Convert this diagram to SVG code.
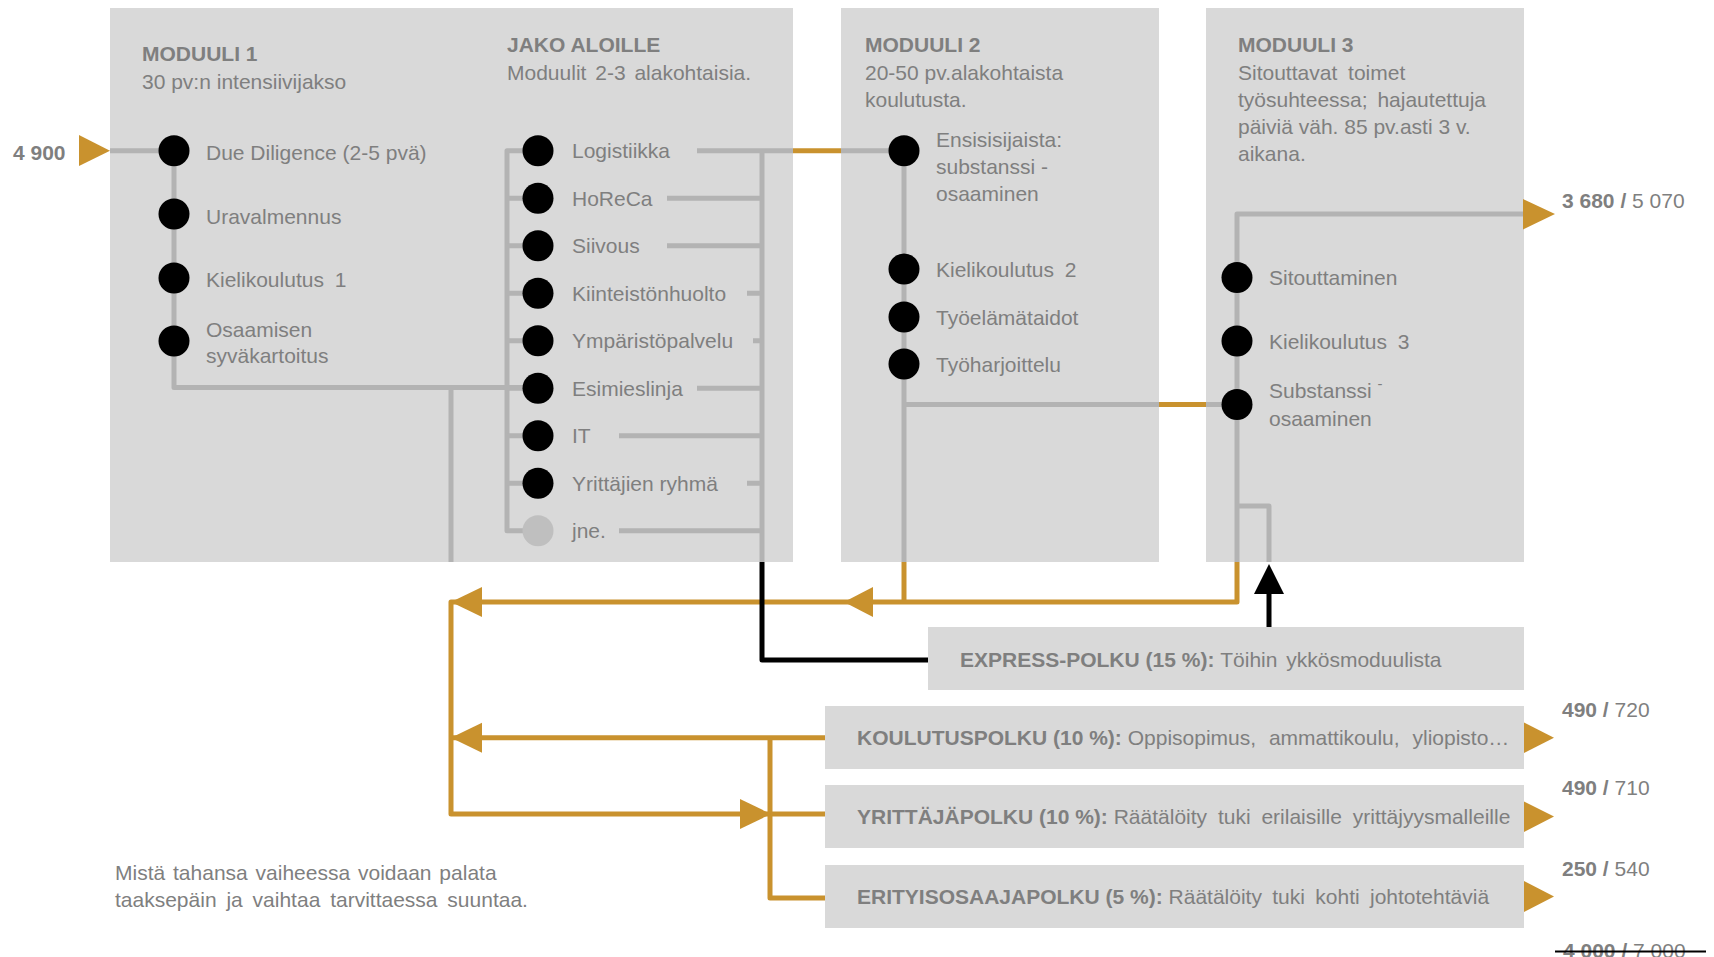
<svg xmlns="http://www.w3.org/2000/svg" width="1714" height="957" viewBox="0 0 1714 957">
<style>
.box{fill:#d9d9d9}
.t{font-family:"Liberation Sans",Arial,sans-serif;font-size:21px;fill:#7f7f7f}
.b{font-weight:bold}
.g{stroke:#b3b3b3;stroke-width:5;fill:none;stroke-linejoin:round}
.o{stroke:#c9922e;stroke-width:5;fill:none;stroke-linejoin:round}
.k{stroke:#000;stroke-width:5;fill:none;stroke-linejoin:round}
.dot{fill:#000}
.dotg{fill:#bfbfbf}
.ah{fill:#c9922e}
.ak{fill:#000}
</style>
<rect width="1714" height="957" fill="#fff"/>
<g id="moduuli1">
<rect class="box" x="110" y="8" width="683" height="554"/>
<text class="t b" x="142" y="61">MODUULI 1</text>
<text class="t" x="142" y="89">30 pv:n intensiivijakso</text>
<text class="t b" x="507" y="52">JAKO ALOILLE</text>
<text class="t" x="507" y="80" word-spacing="3">Moduulit 2-3 alakohtaisia.</text>
</g>
<g id="moduuli2">
<rect class="box" x="841" y="8" width="318" height="554"/>
<text class="t b" x="865" y="52">MODUULI 2</text>
<text class="t" x="865" y="80">20-50 pv.alakohtaista</text>
<text class="t" x="865" y="107">koulutusta.</text>
</g>
<g id="moduuli3">
<rect class="box" x="1206" y="8" width="318" height="554"/>
<text class="t b" x="1238" y="52">MODUULI 3</text>
<text class="t" x="1238" y="80" word-spacing="5">Sitouttavat toimet</text>
<text class="t" x="1238" y="107" word-spacing="4">työsuhteessa; hajautettuja</text>
<text class="t" x="1238" y="134">päiviä väh. 85 pv.asti 3 v.</text>
<text class="t" x="1238" y="161">aikana.</text>
</g>
<g id="express">
<rect class="box" x="928" y="627" width="596" height="63"/>
<text class="t" x="960" y="667"><tspan class="b">EXPRESS-POLKU (15 %): </tspan><tspan word-spacing="3">Töihin ykkösmoduulista</tspan></text>
</g>
<g id="koulutuspolku">
<rect class="box" x="825" y="706" width="699" height="63"/>
<text class="t" x="857" y="745"><tspan class="b">KOULUTUSPOLKU (10 %): </tspan><tspan word-spacing="7">Oppisopimus, ammattikoulu, yliopisto…</tspan></text>
</g>
<g id="yrittajapolku">
<rect class="box" x="825" y="785" width="699" height="63"/>
<text class="t" x="857" y="824"><tspan class="b">YRITTÄJÄPOLKU (10 %): </tspan><tspan word-spacing="5">Räätälöity tuki erilaisille yrittäjyysmalleille</tspan></text>
</g>
<g id="erityisosaajapolku">
<rect class="box" x="825" y="865" width="699" height="63"/>
<text class="t" x="857" y="904"><tspan class="b">ERITYISOSAAJAPOLKU (5 %): </tspan><tspan word-spacing="4.5">Räätälöity tuki kohti johtotehtäviä</tspan></text>
</g>
<g id="connectors">
<path class="g" d="M110 150.7H174V387.5H538"/>
<path class="g" d="M451 387.5V562"/>
<path class="g" d="M538 150.7H507V530.7H538"/>
<path class="g" d="M507 198.2H538M507 245.7H538M507 293.2H538M507 340.7H538M507 388.2H538M507 435.7H538M507 483.2H538"/>
<path class="g" d="M697 150.7H793M667 198.2H762M667 245.7H762M747 293.2H762M753 340.7H762M697 388.2H762M619 435.7H762M747 483.2H762M619 530.7H762"/>
<path class="g" d="M762 150.7V562"/>
<path class="o" d="M793 150.7H841"/>
<path class="g" d="M841 150.7H904V562"/>
<path class="g" d="M904 404.5H1159"/>
<path class="o" d="M1159 404.5H1206"/>
<path class="g" d="M1206 404.5H1237"/>
<path class="g" d="M1523 214H1237V562"/>
<path class="g" d="M1237 506H1269V562"/>
<path class="o" d="M904 562V602"/>
<path class="o" d="M1237 562V602H451V814H825"/>
<path class="o" d="M825 737.8H451"/>
<path class="o" d="M770 737.8V898H825"/>
<path class="k" d="M762 562V660H928"/>
<path class="k" d="M1269 627V590"/>
<polygon class="ak" points="1269,564 1254,594 1284,594"/>
<polygon class="ah" points="79,135 110,150.7 79,166"/>
<polygon class="ah" points="1523,199 1555,214 1523,229.5"/>
<polygon class="ah" points="1524,722.5 1554,737.8 1524,753"/>
<polygon class="ah" points="1524,801.5 1554,816.5 1524,832"/>
<polygon class="ah" points="1524,881 1554,896.5 1524,912"/>
<polygon class="ah" points="451,602 482,587 482,617"/>
<polygon class="ah" points="844,602 873,587 873,617"/>
<polygon class="ah" points="451,737.8 482,722.8 482,752.8"/>
<polygon class="ah" points="771,814 740,799 740,829"/>
</g>
<g id="m1-items">
<circle class="dot" cx="174" cy="150.7" r="15.5"/>
<text class="t" x="206" y="160">Due Diligence (2-5 pvä)</text>
<circle class="dot" cx="174" cy="214" r="15.5"/>
<text class="t" x="206" y="223.5">Uravalmennus</text>
<circle class="dot" cx="174" cy="278" r="15.5"/>
<text class="t" x="206" y="287" word-spacing="5">Kielikoulutus 1</text>
<circle class="dot" cx="174" cy="341" r="15.5"/>
<text class="t" x="206" y="336.5">Osaamisen</text>
<text class="t" x="206" y="362.5">syväkartoitus</text>
</g>
<g id="jako-items">
<circle class="dot" cx="538" cy="150.7" r="15.5"/>
<text class="t" x="572" y="158.2">Logistiikka</text>
<circle class="dot" cx="538" cy="198.2" r="15.5"/>
<text class="t" x="572" y="205.7">HoReCa</text>
<circle class="dot" cx="538" cy="245.7" r="15.5"/>
<text class="t" x="572" y="253.2">Siivous</text>
<circle class="dot" cx="538" cy="293.2" r="15.5"/>
<text class="t" x="572" y="300.7">Kiinteistönhuolto</text>
<circle class="dot" cx="538" cy="340.7" r="15.5"/>
<text class="t" x="572" y="348.2">Ympäristöpalvelu</text>
<circle class="dot" cx="538" cy="388.2" r="15.5"/>
<text class="t" x="572" y="395.7">Esimieslinja</text>
<circle class="dot" cx="538" cy="435.7" r="15.5"/>
<text class="t" x="572" y="443.2">IT</text>
<circle class="dot" cx="538" cy="483.2" r="15.5"/>
<text class="t" x="572" y="490.7">Yrittäjien ryhmä</text>
<circle class="dotg" cx="538" cy="530.7" r="15.5"/>
<text class="t" x="572" y="538.2">jne.</text>
</g>
<g id="m2-items">
<circle class="dot" cx="904" cy="150.7" r="15.5"/>
<text class="t" x="936" y="147">Ensisisijaista:</text>
<text class="t" x="936" y="174">substanssi -</text>
<text class="t" x="936" y="201">osaaminen</text>
<circle class="dot" cx="904" cy="269" r="15.5"/>
<text class="t" x="936" y="276.5" word-spacing="5">Kielikoulutus 2</text>
<circle class="dot" cx="904" cy="317" r="15.5"/>
<text class="t" x="936" y="324.5">Työelämätaidot</text>
<circle class="dot" cx="904" cy="364" r="15.5"/>
<text class="t" x="936" y="371.5">Työharjoittelu</text>
</g>
<g id="m3-items">
<circle class="dot" cx="1237" cy="277.6" r="15.5"/>
<text class="t" x="1269" y="285">Sitouttaminen</text>
<circle class="dot" cx="1237" cy="341" r="15.5"/>
<text class="t" x="1269" y="348.5" word-spacing="5">Kielikoulutus 3</text>
<circle class="dot" cx="1237" cy="404.5" r="15.5"/>
<text class="t" x="1269" y="398">Substanssi <tspan dy="-9" font-size="15">-</tspan></text>
<text class="t" x="1269" y="426">osaaminen</text>
</g>
<g id="numbers">
<text class="t b" x="13" y="160">4 900</text>
<text class="t" x="1562" y="208"><tspan class="b">3 680 /</tspan> 5 070</text>
<text class="t" x="1562" y="717"><tspan class="b">490 /</tspan> 720</text>
<text class="t" x="1562" y="795"><tspan class="b">490 /</tspan> 710</text>
<text class="t" x="1562" y="876"><tspan class="b">250 /</tspan> 540</text>
<text class="t" x="1563" y="958"><tspan class="b">4 000 /</tspan> 7 000</text>
<line x1="1555" y1="951.5" x2="1706" y2="951.5" stroke="#000" stroke-width="2"/>
</g>
<g id="note">
<text class="t" x="115" y="879.5" word-spacing="2">Mistä tahansa vaiheessa voidaan palata</text>
<text class="t" x="115" y="907" word-spacing="4">taaksepäin ja vaihtaa tarvittaessa suuntaa.</text>
</g>
</svg>
